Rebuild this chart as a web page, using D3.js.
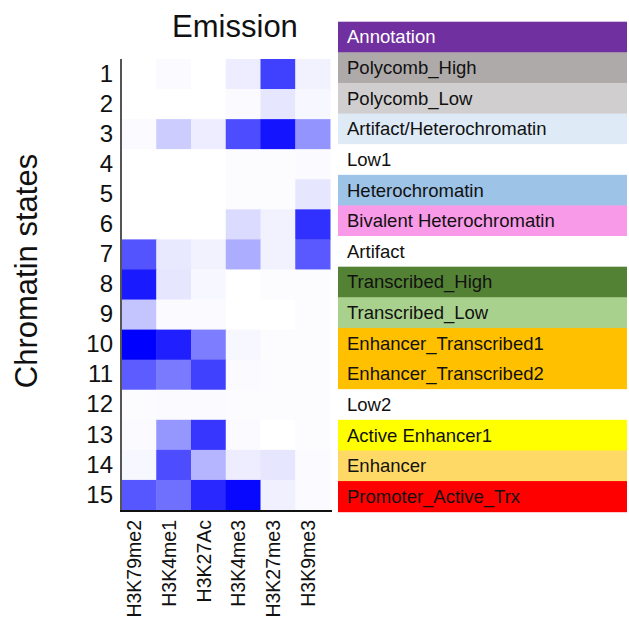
<!DOCTYPE html>
<html>
<head>
<meta charset="utf-8">
<script src="https://cdn.jsdelivr.net/npm/d3@7"></script>
<style>
	body { margin: 0; background: #fff; }
	svg { display: block; font-family: "Liberation Sans", Arial, sans-serif; }
</style>
</head>
<body>
<div id="chart"></div>
<script>
"use strict";

var marks = ["H3K79me2", "H3K4me1", "H3K27Ac", "H3K4me3", "H3K27me3", "H3K9me3"];
var states = ["1", "2", "3", "4", "5", "6", "7", "8", "9", "10", "11", "12", "13", "14", "15"];

// emission probabilities, one row per state
var emission = [
	[0.00, 0.02, 0.00, 0.07, 0.75, 0.05],
	[0.00, 0.00, 0.00, 0.02, 0.10, 0.03],
	[0.02, 0.20, 0.07, 0.70, 0.92, 0.42],
	[0.00, 0.00, 0.00, 0.01, 0.01, 0.02],
	[0.00, 0.00, 0.00, 0.01, 0.01, 0.10],
	[0.00, 0.00, 0.00, 0.14, 0.05, 0.81],
	[0.67, 0.09, 0.05, 0.32, 0.05, 0.65],
	[0.90, 0.10, 0.03, 0.00, 0.01, 0.01],
	[0.23, 0.02, 0.02, 0.00, 0.00, 0.01],
	[1.00, 0.88, 0.51, 0.03, 0.01, 0.01],
	[0.64, 0.52, 0.75, 0.02, 0.01, 0.01],
	[0.01, 0.02, 0.02, 0.01, 0.01, 0.01],
	[0.02, 0.41, 0.79, 0.02, 0.00, 0.01],
	[0.03, 0.70, 0.29, 0.07, 0.10, 0.02],
	[0.66, 0.56, 0.84, 0.97, 0.06, 0.02]
];

var annotations = ["Polycomb_High", "Polycomb_Low", "Artifact/Heterochromatin", "Low1",
	"Heterochromatin", "Bivalent Heterochromatin", "Artifact", "Transcribed_High",
	"Transcribed_Low", "Enhancer_Transcribed1", "Enhancer_Transcribed2", "Low2",
	"Active Enhancer1", "Enhancer", "Promoter_Active_Trx"];
var annotation_colors = ["#aeaaaa", "#d0cece", "#deeaf6", "#ffffff",
	"#9dc3e6", "#f99ae8", "#ffffff", "#548235",
	"#a9d18e", "#ffc000", "#ffc000", "#ffffff",
	"#ffff00", "#ffd966", "#ff0000"];

var width = 629, height = 624;
var svg = d3.select("#chart").append("svg")
	.attr("width", width)
	.attr("height", height);

var x = d3.scaleBand().domain(marks).range([121.5, 330]);
var y = d3.scaleBand().domain(states).range([59, 510]);
var color = d3.scaleLinear().domain([0, 1]).range(["#ffffff", "#0000ff"]);

// heatmap cells
var cells = [];
emission.forEach(function(row, i) {
	row.forEach(function(v, j) {
		cells.push({ state: states[i], mark: marks[j], value: v });
	});
});
svg.append("g").selectAll("rect")
	.data(cells)
	.enter().append("rect")
		.attr("x", function(d) { return x(d.mark); })
		.attr("y", function(d) { return y(d.state); })
		.attr("width", x.bandwidth() + 0.5)
		.attr("height", y.bandwidth() + 0.5)
		.attr("fill", function(d) { return color(d.value); });

// axes
var yAxis = svg.append("g")
	.attr("transform", "translate(121,0)")
	.call(d3.axisLeft(y).tickSize(0).tickPadding(8));
yAxis.select(".domain").attr("stroke", "#555").attr("stroke-width", 2)
	.attr("d", "M0,59V512");
yAxis.selectAll("text").attr("font-size", 24).attr("fill", "#111")
	.attr("font-family", "Liberation Sans, Arial, sans-serif");

var xAxis = svg.append("g")
	.attr("transform", "translate(0,511)")
	.call(d3.axisBottom(x).tickSize(0).tickPadding(9));
xAxis.select(".domain").attr("stroke", "#111").attr("stroke-width", 2)
	.attr("d", "M120,0H332");
xAxis.selectAll("text")
	.attr("font-size", 19.5)
	.attr("fill", "#111")
	.attr("font-family", "Liberation Sans, Arial, sans-serif")
	.attr("text-anchor", "end")
	.attr("dy", null)
	.attr("transform", "translate(-3,0) rotate(-90)")
	.attr("x", -9)
	.attr("y", 0)
	.attr("dominant-baseline", "middle");

// titles
svg.append("text")
	.attr("x", 235)
	.attr("y", 37)
	.attr("text-anchor", "middle")
	.attr("font-size", 31)
	.attr("fill", "#111")
	.text("Emission");

svg.append("text")
	.attr("transform", "translate(37,271) rotate(-90)")
	.attr("text-anchor", "middle")
	.attr("font-size", 31)
	.attr("fill", "#111")
	.text("Chromatin states");

// annotation column
var ya = d3.scaleBand().domain(["Annotation"].concat(annotations)).range([21.7, 511.7]);
var ann = svg.append("g");
ann.append("rect")
	.attr("x", 338).attr("y", ya("Annotation"))
	.attr("width", 289).attr("height", ya.bandwidth() + 0.5)
	.attr("fill", "#7030a0");
ann.append("text")
	.attr("x", 347).attr("y", ya("Annotation") + ya.bandwidth() / 2)
	.attr("dy", "0.35em")
	.attr("font-size", 18.5)
	.attr("fill", "#fff")
	.text("Annotation");

var rows = ann.selectAll("g.row")
	.data(annotations)
	.enter().append("g")
		.attr("class", "row")
		.attr("transform", function(d) { return "translate(0," + ya(d) + ")"; });
rows.append("rect")
	.attr("x", 338)
	.attr("width", 289)
	.attr("height", ya.bandwidth() + 0.5)
	.attr("fill", function(d, i) { return annotation_colors[i]; });
rows.append("text")
	.attr("x", 347)
	.attr("y", ya.bandwidth() / 2)
	.attr("dy", "0.35em")
	.attr("font-size", 18.5)
	.attr("fill", "#111")
	.text(function(d) { return d; });
</script>
</body>
</html>
